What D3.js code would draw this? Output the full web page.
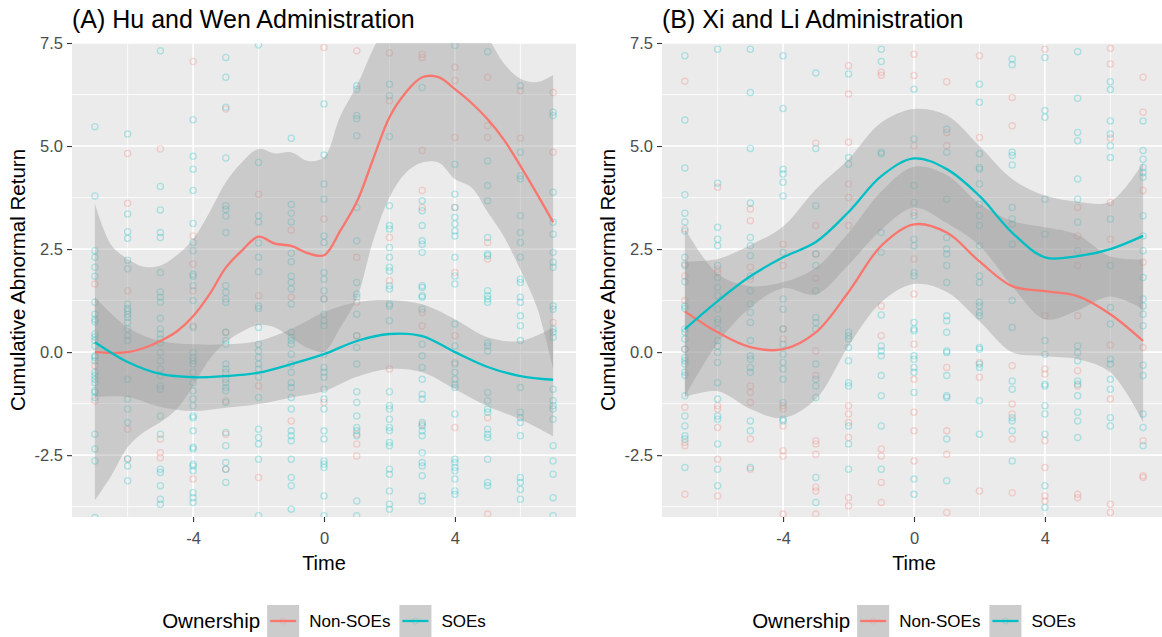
<!DOCTYPE html>
<html>
<head>
<meta charset="utf-8">
<script src="https://cdnjs.cloudflare.com/ajax/libs/d3/7.8.5/d3.min.js"></script>
<style>
  body { margin: 0; background: #fff; }
  text { font-family: "Liberation Sans", Arial, sans-serif; }
</style>
</head>
<body>
<svg id="chart" width="1162" height="637"></svg>
<script>
(function(){
  'use strict';

  // data
  var times = [-7, -6, -5, -4, -3, -2, -1, 0, 1, 2, 3, 4, 5, 6, 7];
  var halfTimes = [-7, -6.5, -6, -5.5, -5, -4.5, -4, -3.5, -3, -2.5, -2, -1.5, -1, -0.5,
                   0, 0.5, 1, 1.5, 2, 2.5, 3, 3.5, 4, 4.5, 5, 5.5, 6, 6.5, 7];
  var groups = ['Non-SOEs', 'SOEs'];
  var colors = ['#F8766D', '#00BFC4'];
  var titles = ['(A) Hu and Wen Administration', '(B) Xi and Li Administration'];
  var xTicks = [-4, 0, 4];
  var xTickLabels = ['-4', '0', '4'];
  var yTicks = [-2.5, 0, 2.5, 5, 7.5];
  var yTickLabels = ['-2.5', '0.0', '2.5', '5.0', '7.5'];

  // scatter: one list of returns per time point (-7 .. 7)
  var huSoePts = [
    [5.47,3.79,2.46,2.30,2.06,1.84,1.21,0.92,0.80,0.74,0.44,0.37,0.28,0.15,-0.09,-0.13,-0.21,-0.49,-0.57,-0.66,-0.74,-0.94,-0.98,-1.10,-1.99,-2.35,-2.64,-4.01],
    [5.29,3.35,2.92,2.76,2.23,2.02,1.17,1.06,1.0,0.92,0.84,0.72,0.56,0.40,0.28,-0.66,-1.14,-1.38,-1.71,-2.6,-2.76,-3.12],
    [7.31,4.02,3.45,2.9,2.78,1.93,1.46,1.33,1.21,0.82,0.56,0.44,0.32,0.22,-0.01,-0.21,-0.41,-0.57,-0.82,-0.9,-1.55,-1.99,-2.84,-2.92,-3.24,-3.57,-3.69],
    [5.64,4.75,4.44,3.92,3.12,2.66,2.46,1.89,1.84,1.61,1.25,0.6,-0.01,-0.13,-0.21,-0.29,-0.49,-0.74,-0.94,-1.14,-1.3,-1.55,-1.59,-1.91,-2.31,-2.35,-2.72,-2.76,-2.88,-3.41,-3.53,-3.65],
    [7.15,6.67,5.94,4.71,3.55,3.46,3.3,2.9,1.61,1.45,1.29,1.21,0.48,0.28,0.19,-0.29,-0.41,-0.49,-0.66,-0.74,-0.86,-0.94,-1.22,-1.95,-2.27,-2.68,-2.84,-3.16],
    [7.45,4.6,3.31,3.16,2.65,2.3,1.95,1.12,1.06,0.6,0.19,0.03,-0.13,-0.29,-0.41,-0.61,-1.1,-1.87,-2.07,-2.23,-2.6,-3.97],
    [5.19,3.58,3.37,3.16,2.4,2.19,1.84,1.69,1.53,1.17,0.48,0.36,0.28,0.19,-0.05,-0.29,-0.49,-0.74,-0.86,-1.1,-1.38,-1.91,-2.03,-2.15,-2.6,-3.04,-3.24,-3.81],
    [6.02,4.78,4.08,3.71,2.82,2.66,1.93,1.77,1.49,1.29,0.92,0.76,0.64,-0.05,-0.37,-0.49,-0.61,-0.9,-1.14,-1.38,-1.91,-2.11,-2.64,-2.72,-2.8,-3.49,-3.97],
    [6.46,6.38,5.74,5.66,5.25,3.51,2.7,1.69,1.41,1.33,0.92,0.4,0.11,-0.29,-0.96,-1.22,-1.55,-1.83,-1.91,-2.03,-3.61,-3.97],
    [6.5,6.22,5.23,3.55,3.07,2.99,2.54,2.3,2.06,1.97,1.61,1.53,1.17,1.12,0.76,-0.96,-1.3,-1.38,-1.63,-1.83,-1.91,-2.19,-2.27,-2.84,-2.96,-3.37,-3.69,-3.81],
    [6.42,3.67,3.43,3.07,2.7,2.62,2.42,1.61,1.57,1.37,1.33,1.04,0.19,-0.09,-0.37,-0.66,-1.02,-1.14,-1.71,-1.79,-1.91,-2.03,-2.44,-2.68,-2.76,-3.0,-3.49,-3.61],
    [7.44,4.56,3.83,3.51,3.27,3.11,2.94,2.82,2.3,1.85,1.65,0.68,0.15,-0.29,-0.49,-0.66,-0.78,-0.86,-1.5,-2.6,-2.68,-2.8,-2.88,-3.08,-3.37,-3.45],
    [7.29,4.64,4.04,3.67,2.78,2.38,2.34,1.49,1.37,1.29,1.21,0.23,0.15,0.03,-0.98,-1.18,-1.38,-1.46,-1.87,-1.99,-2.07,-2.6,-3.16,-3.24],
    [6.46,4.85,4.28,4.2,3.31,2.9,2.66,2.3,1.77,1.69,1.33,1.21,0.88,0.64,0.28,-0.86,-1.46,-1.59,-1.71,-2.03,-3.04,-3.16,-3.33,-3.57],
    [5.82,5.74,3.88,3.15,2.86,2.42,2.18,2.06,1.12,1.04,0.56,0.48,0.36,-0.9,-1.18,-1.3,-1.38,-1.63,-2.27,-2.64,-2.96,-3.53,-3.97]
  ];
  var huNonPts = [
    [1.65,-0.33,-1.18],
    [4.82,3.61,1.49,-1.87,-2.58],
    [4.93,-2.11,-2.44,-2.56],
    [7.05,2.82,2.14,1.49,0.64,-3.08],
    [5.9,0.48,-1.18,-1.99,-2.84],
    [3.83,1.37,-0.82,-3.04],
    [2.96,1.33,-1.67],
    [7.39,3.23,1.29,-1.22],
    [7.31,2.3,1.21,0.4,-1.99,-2.23,-2.52],
    [7.26,6.1,2.78,1.73,-0.41],
    [7.23,7.15,4.89,3.92,3.51,0.96,0.64,-1.75],
    [6.91,6.59,5.21,3.51,1.93,0.4,-0.25,-1.83],
    [6.67,5.49,5.21,2.66,2.26,-1.59,-3.93],
    [6.34,5.19],
    [6.3,4.85,0.72]
  ];
  var xiSoePts = [
    [7.19,5.63,4.47,3.82,3.37,3.16,2.94,2.3,2.1,1.71,1.12,1.06,0.56,0.48,0.32,0.07,-0.13,-0.21,-0.29,-0.49,-0.57,-1.06,-1.55,-1.79,-2.03,-2.11,-2.8],
    [7.35,4.1,3.03,2.74,2.58,2.1,1.81,1.57,1.37,1.04,0.8,0.72,0.56,0.28,0.15,-0.01,-0.25,-0.74,-1.14,-1.55,-1.63,-2.23,-2.84,-3.24],
    [7.35,6.3,4.94,3.62,2.78,2.58,2.34,1.85,1.49,1.17,0.96,0.72,0.28,-0.09,-0.17,-0.37,-0.49,-1.67,-1.91,-2.8],
    [7.19,5.91,4.44,4.32,4.12,3.79,2.42,1.29,1.04,0.56,0.19,-0.05,-0.25,-0.41,-0.66,-1.22,-1.63,-1.67],
    [6.77,4.94,3.55,2.38,2.1,1.49,0.84,0.72,0.56,-0.29,-0.66,-0.82,-1.1,-3.04,-3.65],
    [6.75,4.72,4.56,0.48,0.4,0.32,0.11,-0.21,-0.74,-0.82,-1.79,-2.23,-2.84],
    [7.35,7.05,4.85,4.81,2.9,2.42,0.9,0.15,0.03,-0.09,-0.57,-1.06,-1.79,-2.84],
    [6.38,5.17,4.04,3.63,3.31,2.74,2.58,1.93,1.85,0.72,0.56,0.52,-0.09,-0.17,-0.37,-0.49,-0.98,-3.08,-3.45],
    [5.41,4.85,3.71,2.78,2.5,2.38,2.1,1.69,0.88,0.76,0.48,0.03,-0.01,-0.57,-1.06,-1.1,-2.11,-3.12],
    [6.5,6.06,4.81,4.48,4.44,4.08,3.59,3.31,3.07,2.58,1.85,1.69,1.21,1.12,0.96,0.88,0.11,0.07,-0.29,-0.37,-1.18,-1.99],
    [7.11,6.97,4.85,4.77,4.54,3.51,3.23,3.11,2.62,1.25,0.6,-0.7,-0.9,-1.59,-1.67,-1.91,-2.64],
    [7.15,5.86,5.7,3.71,2.86,0.28,-0.05,-0.78,-0.82,-1.3,-1.5,-1.99,-3.24,-3.77],
    [7.29,6.16,5.33,5.13,4.2,3.71,3.15,2.46,0.15,-0.01,-0.21,-0.7,-0.78,-1.06,-1.46,-1.67,-2.07],
    [6.56,6.37,5.61,5.29,5.01,4.72,3.23,2.1,1.08,0.68,-0.17,-0.29,-0.66,-0.9,-1.59,-1.79],
    [5.61,4.89,4.68,4.48,4.36,4.24,3.31,2.82,2.46,1.81,1.29,1.12,0.92,0.64,-0.32,-0.57,-1.5,-1.83,-2.27]
  ];
  var xiNonPts = [
    [6.57,2.99,2.14,1.85,1.25,0.07,-1.34,-2.19,-2.27,-3.45],
    [4.0,2.01,1.93,-1.3,-1.38,-1.83,-2.6,-3.49],
    [3.47,3.19,2.06,1.77,-0.82,-0.98,-1.22,-2.11,-2.84],
    [2.62,2.1,0.56,0.32,-1.3,-1.38,-1.79,-2.39,-2.52,-3.93],
    [5.07,3.07,2.38,1.79,0.03,-0.57,-2.15,-2.23,-2.48,-3.28,-3.37,-3.93],
    [6.95,6.26,5.09,4.08,3.75,3.07,-1.3,-1.5,-1.71,-2.07,-3.53,-3.73],
    [6.79,6.72,1.12,0.4,-2.35,-2.52,-3.16,-3.65],
    [7.23,6.71,5.01,3.39,2.26,1.41,0.19,-0.66,-1.46,-1.91,-2.64],
    [6.56,5.33,5.01,-0.37,-1.91,-2.48,-3.89],
    [7.19,5.21,-0.25,-0.61,-3.37],
    [6.18,5.49,-0.33,-1.26,-1.5,-2.11,-3.41],
    [7.35,0.88,-0.41,-0.53,-2.15,-2.8,-3.49,-3.61],
    [3.51,2.82,2.1,0.88,-0.45,-0.82,-3.45,-3.53],
    [7.37,6.99,5.19,3.63,2.74,0.17,-1.14,-3.69,-3.89],
    [6.67,5.82,3.92,2.18,0.11,-2.15,-3.0,-3.04]
  ];

  // loess fits (fit, lower, upper)
  var huNonFit = [0.0,-0.02,0.0,0.1,0.27,0.5,0.87,1.4,2.05,2.47,2.8,2.63,2.58,2.4,2.35,2.95,3.64,4.68,5.7,6.3,6.67,6.67,6.38,6.05,5.65,5.15,4.52,3.85,3.15];
  var huNonLo  = [-3.6,-3.0,-2.31,-1.94,-1.7,-1.38,-0.82,-0.17,0.24,0.5,0.66,0.6,0.35,0.1,0.02,0.6,1.3,2.7,3.75,4.35,4.6,4.6,4.2,4.0,3.4,2.8,2.0,1.1,-0.4];
  var huNonHi  = [3.6,2.6,2.26,2.07,2.1,2.35,2.74,3.39,4.12,4.61,4.93,4.82,4.85,4.64,4.73,5.73,6.46,7.35,8.1,8.6,8.9,8.9,8.6,8.2,7.65,7.0,6.63,6.55,6.72];

  var huSoeFit = [0.24,-0.24,-0.53,-0.61,-0.58,-0.5,-0.29,-0.05,0.27,0.44,0.39,0.0,-0.36,-0.58,-0.67];
  var huSoeLo  = [-1.09,-1.09,-1.33,-1.43,-1.35,-1.26,-1.1,-0.95,-0.6,-0.41,-0.49,-0.9,-1.31,-1.63,-2.04];
  var huSoeHi  = [1.33,0.6,0.27,0.19,0.19,0.27,0.56,0.97,1.21,1.26,1.16,0.8,0.36,0.27,0.6];

  var xiNonFit = [0.99,0.48,0.12,0.07,0.48,1.46,2.58,3.1,2.9,2.2,1.6,1.48,1.36,0.92,0.27];
  var xiNonLo  = [-1.09,-0.95,-1.38,-1.6,-1.14,0.15,1.21,1.65,1.46,0.75,0.0,-0.1,-0.17,-0.49,-1.7];
  var xiNonHi  = [3.0,1.9,1.6,1.7,2.05,2.9,3.9,4.5,4.3,3.6,3.18,3.03,2.85,2.32,2.25];

  var xiSoeFit = [0.56,1.24,1.84,2.3,2.67,3.4,4.27,4.7,4.44,3.79,2.9,2.3,2.33,2.5,2.82];
  var xiSoeLo  = [-1.08,0.22,1.08,1.55,1.4,2.12,2.97,3.5,3.13,2.58,1.6,0.8,1.01,1.35,1.04];
  var xiSoeHi  = [2.2,2.26,2.6,3.05,3.95,4.68,5.57,5.9,5.75,5.0,4.2,3.8,3.65,3.65,4.6];

  var panels = [
    {title: titles[0], pts: [huNonPts, huSoePts],
     fits: [{t: halfTimes, fit: huNonFit, lo: huNonLo, hi: huNonHi},
            {t: times, fit: huSoeFit, lo: huSoeLo, hi: huSoeHi}]},
    {title: titles[1], pts: [xiNonPts, xiSoePts],
     fits: [{t: times, fit: xiNonFit, lo: xiNonLo, hi: xiNonHi},
            {t: times, fit: xiSoeFit, lo: xiSoeLo, hi: xiSoeHi}]}
  ];

  // layout
  var W = 1162, H = 637,
      panelW = 504, panelH = 474, panelTop = 43,
      panelLefts = [72, 662];

  var svg = d3.select('#chart');
  svg.append('rect').attr('width', W).attr('height', H).attr('fill', '#ffffff');

  var x = d3.scaleLinear().domain([-7.7, 7.7]).range([0, panelW]);
  var y = d3.scaleLinear().domain([-4, 7.5]).range([panelH, 0]);

  panels.forEach(function(p, i) { drawPanel(p, i); });

  function drawPanel(p, idx) {
    var g = svg.append('g')
      .attr('transform', 'translate(' + panelLefts[idx] + ',' + panelTop + ')');

    svg.append('defs').append('clipPath').attr('id', 'clip' + idx)
      .append('rect').attr('width', panelW).attr('height', panelH);

    g.append('rect')
      .attr('width', panelW).attr('height', panelH)
      .attr('fill', '#EBEBEB');

    var xMinor = [-6, -2, 2, 6],
        yMinor = [-3.75, -1.25, 1.25, 3.75, 6.25];

    g.selectAll('.yminor').data(yMinor).enter().append('line')
      .attr('x1', 0).attr('x2', panelW)
      .attr('y1', function(d) { return y(d); }).attr('y2', function(d) { return y(d); })
      .style('stroke', '#fff').style('stroke-width', 0.8);
    g.selectAll('.xminor').data(xMinor).enter().append('line')
      .attr('y1', 0).attr('y2', panelH)
      .attr('x1', function(d) { return x(d); }).attr('x2', function(d) { return x(d); })
      .style('stroke', '#fff').style('stroke-width', 0.8);
    g.selectAll('.ymajor').data(yTicks).enter().append('line')
      .attr('x1', 0).attr('x2', panelW)
      .attr('y1', function(d) { return y(d); }).attr('y2', function(d) { return y(d); })
      .style('stroke', '#fff').style('stroke-width', 1.6);
    g.selectAll('.xmajor').data(xTicks).enter().append('line')
      .attr('y1', 0).attr('y2', panelH)
      .attr('x1', function(d) { return x(d); }).attr('x2', function(d) { return x(d); })
      .style('stroke', '#fff').style('stroke-width', 1.6);

    var plot = g.append('g').attr('clip-path', 'url(#clip' + idx + ')');

    // points
    p.pts.forEach(function(cols, k) {
      var flat = [];
      cols.forEach(function(vals, j) {
        vals.forEach(function(v) { flat.push({t: times[j], v: v}); });
      });
      plot.selectAll('.pt' + k).data(flat).enter().append('circle')
        .attr('class', 'pt' + k)
        .attr('cx', function(d) { return x(d.t); })
        .attr('cy', function(d) { return y(d.v); })
        .attr('r', 3.1)
        .style('fill', 'none')
        .style('stroke', colors[k])
        .style('stroke-opacity', 0.28)
        .style('stroke-width', 1.3);
    });

    // confidence bands
    p.fits.forEach(function(f) {
      var rows = f.t.map(function(t, j) { return {t: t, lo: f.lo[j], hi: f.hi[j]}; });
      var area = d3.area()
        .curve(d3.curveCatmullRom.alpha(0.5))
        .x(function(d) { return x(d.t); })
        .y0(function(d) { return y(d.lo); })
        .y1(function(d) { return y(d.hi); });
      plot.append('path').datum(rows)
        .attr('d', area)
        .style('fill', '#999999')
        .style('fill-opacity', 0.4);
    });

    // fitted lines
    p.fits.forEach(function(f, k) {
      var rows = f.t.map(function(t, j) { return {t: t, v: f.fit[j]}; });
      var line = d3.line()
        .curve(d3.curveCatmullRom.alpha(0.5))
        .x(function(d) { return x(d.t); })
        .y(function(d) { return y(d.v); });
      plot.append('path').datum(rows)
        .attr('d', line)
        .style('fill', 'none')
        .style('stroke', colors[k])
        .style('stroke-width', 2.3);
    });

    // axes
    var yAxis = d3.axisLeft(y).tickValues(yTicks)
      .tickFormat(function(d, i) { return yTickLabels[i]; })
      .tickSize(5).tickPadding(4);
    var xAxis = d3.axisBottom(x).tickValues(xTicks)
      .tickFormat(function(d, i) { return xTickLabels[i]; })
      .tickSize(5).tickPadding(10);

    var ya = g.append('g').call(yAxis);
    var xa = g.append('g').attr('transform', 'translate(0,' + panelH + ')').call(xAxis);
    [ya, xa].forEach(function(a) {
      a.select('.domain').remove();
      a.selectAll('line').style('stroke', '#333333').style('stroke-width', 1.1);
      a.selectAll('text')
        .style('fill', '#4D4D4D')
        .style('font-size', '16.5px')
        .style('font-family', '"Liberation Sans", Arial, sans-serif');
    });

    // titles
    g.append('text')
      .attr('x', 0).attr('y', -15)
      .style('font-size', '25px').style('fill', '#000')
      .text(p.title);

    g.append('text')
      .attr('x', panelW / 2).attr('y', panelH + 53)
      .attr('text-anchor', 'middle')
      .style('font-size', '20px').style('fill', '#000')
      .text('Time');

    g.append('text')
      .attr('transform', 'translate(-47,' + (panelH / 2) + ') rotate(-90)')
      .attr('text-anchor', 'middle')
      .style('font-size', '20.5px').style('fill', '#000')
      .text('Cumulative Abnormal Return');

    addLegend(panelLefts[idx] + panelW / 2, 621);
  }

  function addLegend(cx, cy) {
    var lg = svg.append('g');
    var pos = 0;
    var title = lg.append('text')
      .attr('x', 0).attr('y', cy + 7)
      .style('font-size', '20.5px').style('fill', '#000')
      .text('Ownership');
    pos = title.node().getComputedTextLength() + 7;

    groups.forEach(function(name, k) {
      lg.append('rect')
        .attr('x', pos).attr('y', cy - 16)
        .attr('width', 32).attr('height', 32)
        .style('fill', '#CCCCCC');
      lg.append('circle')
        .attr('cx', pos + 16).attr('cy', cy).attr('r', 3)
        .style('fill', 'none').style('stroke', colors[k])
        .style('stroke-opacity', 0.22);
      lg.append('line')
        .attr('x1', pos + 3).attr('x2', pos + 29)
        .attr('y1', cy).attr('y2', cy)
        .style('stroke', colors[k]).style('stroke-width', 2.3);
      pos += 32 + 10;
      var t = lg.append('text')
        .attr('x', pos).attr('y', cy + 6)
        .style('font-size', '17px').style('fill', '#000')
        .text(name);
      pos += t.node().getComputedTextLength() + 9;
    });
    pos -= 9;
    lg.attr('transform', 'translate(' + (cx - pos / 2) + ',0)');
  }

}());
</script>
</body>
</html>
